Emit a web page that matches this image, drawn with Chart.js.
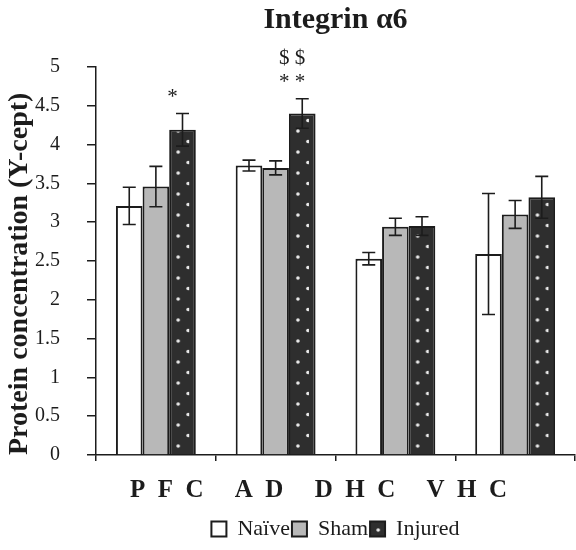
<!DOCTYPE html>
<html>
<head>
<meta charset="utf-8">
<script src="https://cdn.jsdelivr.net/npm/chart.js@4/dist/chart.umd.min.js"></script>
<style>
  html, body { margin: 0; padding: 0; background: #ffffff; }
  #wrap { width: 576px; height: 550px; }
</style>
</head>
<body>
<div id="wrap"><canvas id="chart" width="576" height="550"></canvas></div>
<script>
// Brain regions on the x axis
const categories = ['PFC', 'AD', 'DHC', 'VHC'];

// Mean protein concentration per group
const naive   = [3.21, 3.73, 2.53, 2.59];
const sham    = [3.46, 3.70, 2.94, 3.10];
const injured = [4.19, 4.40, 2.95, 3.32];

// Error (± half-range) for each bar
const naiveErr   = [0.24, 0.07, 0.08, 0.78];
const shamErr    = [0.26, 0.09, 0.11, 0.18];
const injuredErr = [0.21, 0.19, 0.12, 0.27];

// Y axis tick values
const yTicks = [0, 0.5, 1, 1.5, 2, 2.5, 3, 3.5, 4, 4.5, 5];

// Significance marks: region index, group index, lines from bottom to top
const sigMarks = [
  { category: 0, series: 2, lines: ['*'] },
  { category: 1, series: 2, lines: ['* *', '$ $'] }
];

const SERIF = '"Liberation Serif", "Times New Roman", serif';
const INK = '#1c1c1c';
const CAT_PCT = 0.667;

// Dark fill with a staggered grid of light dots
const dotTile = (() => {
  const c = document.createElement('canvas');
  c.width = 20; c.height = 21;
  const g = c.getContext('2d');
  g.fillStyle = '#2e2e2e';
  g.fillRect(0, 0, 20, 21);
  g.fillStyle = '#ececec';
  g.beginPath(); g.arc(9, 5, 1.8, 0, Math.PI * 2); g.fill();
  g.beginPath(); g.arc(19, 15.5, 1.8, 0, Math.PI * 2); g.fill();
  return c;
})();

function injuredFill(ctx) {
  const chart = ctx.chart;
  if (ctx.type !== 'data' || !chart.chartArea || !chart.scales.x) return '#2e2e2e';
  const xs = chart.scales.x;
  const center = xs.getPixelForValue(ctx.dataIndex);
  const catW = (xs.right - xs.left) / categories.length;
  const groupW = catW * CAT_PCT;
  const left = center - groupW / 2 + 2 * groupW / 3;
  const pat = chart.ctx.createPattern(dotTile, 'repeat');
  pat.setTransform(new DOMMatrix([1, 0, 0, 1, left, 0]));
  return pat;
}

const errors = [naiveErr, shamErr, injuredErr];

const bgPlugin = {
  id: 'bg',
  beforeDraw(chart) {
    const c = chart.ctx;
    c.save();
    c.fillStyle = '#ffffff';
    c.fillRect(0, 0, chart.width, chart.height);
    c.restore();
  }
};

const errorBars = {
  id: 'errorBars',
  afterDatasetsDraw(chart) {
    const c = chart.ctx;
    const ys = chart.scales.y;
    c.save();
    c.strokeStyle = INK;
    c.lineWidth = 1.6;
    chart.data.datasets.forEach((ds, di) => {
      const meta = chart.getDatasetMeta(di);
      meta.data.forEach((bar, i) => {
        const v = ds.data[i], e = errors[di][i];
        const yTop = ys.getPixelForValue(v + e);
        const yBot = ys.getPixelForValue(v - e);
        const x = bar.x, cap = 6.5;
        c.beginPath();
        c.moveTo(x, yTop); c.lineTo(x, yBot);
        c.moveTo(x - cap, yTop); c.lineTo(x + cap, yTop);
        c.moveTo(x - cap, yBot); c.lineTo(x + cap, yBot);
        c.stroke();
      });
    });
    c.restore();
  }
};

const sigPlugin = {
  id: 'sigMarks',
  afterDatasetsDraw(chart) {
    const c = chart.ctx;
    const ys = chart.scales.y;
    c.save();
    c.fillStyle = INK;
    c.font = '21px ' + SERIF;
    c.textAlign = 'center';
    c.textBaseline = 'alphabetic';
    sigMarks.forEach(m => {
      const bar = chart.getDatasetMeta(m.series).data[m.category];
      const ds = chart.data.datasets[m.series];
      const top = ys.getPixelForValue(ds.data[m.category] + errors[m.series][m.category]);
      m.lines.forEach((txt, k) => {
        c.fillText(txt, bar.x - 10, top - 11 - k * 24);
      });
    });
    c.restore();
  }
};

// Region names written as one spaced caption under the axis
const caption = {
  id: 'caption',
  afterDraw(chart) {
    const a = chart.chartArea;
    const text = categories.map(s => s.split('').join('  ')).join('     ');
    const c = chart.ctx;
    c.save();
    c.fillStyle = INK;
    c.font = 'bold 25px ' + SERIF;
    c.textAlign = 'center';
    c.textBaseline = 'alphabetic';
    c.fillText(text, (a.left + a.right) / 2 - 17, a.bottom + 42);
    c.restore();
  }
};

new Chart(document.getElementById('chart'), {
  type: 'bar',
  data: {
    labels: categories,
    datasets: [
      { label: 'Naïve', data: naive, backgroundColor: '#ffffff', borderColor: INK, borderWidth: 2 },
      { label: 'Sham', data: sham, backgroundColor: '#b8b8b8', borderColor: INK, borderWidth: 2 },
      { label: 'Injured', data: injured, backgroundColor: injuredFill, borderColor: INK, borderWidth: 2 }
    ]
  },
  options: {
    responsive: false,
    animation: false,
    events: [],
    layout: { padding: { left: 0, right: 1, top: 0, bottom: 0 } },
    datasets: { bar: { categoryPercentage: CAT_PCT, barPercentage: 1 } },
    scales: {
      x: {
        offset: true,
        grid: { offset: true, drawOnChartArea: false, drawTicks: true, tickLength: 6, color: INK, lineWidth: 1.5 },
        border: { display: true, color: INK, width: 1.5 },
        ticks: { display: false },
        afterFit(s) { s.height = 61; }
      },
      y: {
        min: 0,
        max: 5,
        afterBuildTicks(s) { s.ticks = yTicks.map(v => ({ value: v })); },
        ticks: {
          callback: v => String(v),
          padding: 27,
          color: INK,
          font: { family: SERIF, size: 20 }
        },
        grid: { drawOnChartArea: false, drawTicks: true, tickLength: 9, color: INK, lineWidth: 1.5 },
        border: { display: true, color: INK, width: 1.5 },
        title: {
          display: true,
          text: 'Protein concentration (Y-cept)',
          align: 'start',
          color: INK,
          font: { family: SERIF, size: 28, weight: 'bold' },
          padding: { top: 3, bottom: 0 }
        },
        afterFit(s) { s.width = 96; }
      }
    },
    plugins: {
      title: {
        display: true,
        text: 'Integrin α6',
        fullSize: false,
        color: INK,
        font: { family: SERIF, size: 30, weight: 'bold' },
        padding: { top: 2, bottom: 29 }
      },
      legend: {
        position: 'bottom',
        fullSize: false,
        labels: {
          boxWidth: 15,
          boxHeight: 15,
          padding: 2,
          color: INK,
          font: { family: SERIF, size: 22 }
        }
      },
      tooltip: { enabled: false }
    }
  },
  plugins: [bgPlugin, errorBars, sigPlugin, caption]
});
</script>
</body>
</html>
